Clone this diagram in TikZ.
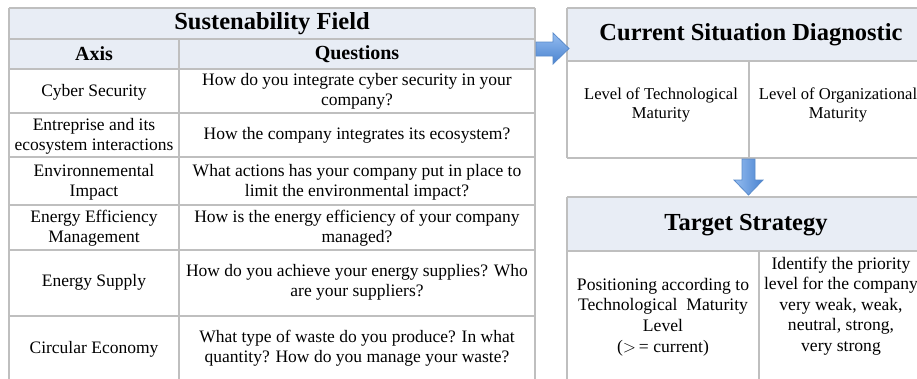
\documentclass[tikz,border=0pt]{standalone}
\usepackage{fontspec}
\setmainfont{Liberation Serif}
\definecolor{hdr}{HTML}{E8EDF5}
\definecolor{gridc}{HTML}{BFBFBF}
\definecolor{arrlight}{HTML}{95BDF0}
\definecolor{arrdark}{HTML}{4A83D0}
\definecolor{arredge}{HTML}{5A8BCB}
\begin{document}
\begin{tikzpicture}[x=1pt,y=-1pt,
  gridline/.style={draw=gridc,line width=1.3pt},
  titletext/.style={font=\fontsize{24.5}{28}\selectfont\bfseries, inner sep=0pt},
  headtext/.style={font=\fontsize{20}{24}\selectfont\bfseries, inner sep=0pt},
  celltext/.style={font=\fontsize{17.5}{20}\selectfont, align=center, inner sep=0pt},
  diagtext/.style={font=\fontsize{16.6}{19.5}\selectfont, align=center, inner sep=0pt},
  targettext/.style={font=\fontsize{17.6}{20.6}\selectfont, align=center, inner sep=0pt},
  blockarrow/.style={draw=arredge, line width=0.8pt, line join=miter},
]
\path[use as bounding box, clip] (0,0) rectangle (917,378);
\fill[white] (0,0) rectangle (917,378);

% ---------- left table ----------
\fill[hdr] (9,8) rectangle (535,69);
\foreach \yy in {8,39,69,113,157,205,250,316}
  \draw[gridline] (9,\yy) -- (535,\yy);
\draw[gridline] (9,8) -- (9,400);
\draw[gridline] (535,8) -- (535,400);
\draw[gridline] (179,39) -- (179,400);

\node[titletext] (sf) at (272,23.5) {Sustenability Field};
\node[headtext] (axis) at (94,54) {Axis};
\node[headtext] (quest) at (357,54) {Questions};

\node[celltext] (a1) at (94,92) {Cyber Security};
\node[celltext] (q1) at (357,91.5) {How do you integrate cyber security in your\\company?};
\node[celltext] (a2) at (94,136) {Entreprise and its\\ecosystem interactions};
\node[celltext] (q2) at (357,135.5) {How the company integrates its ecosystem?};
\node[celltext] (a3) at (94,182.5) {Environnemental\\Impact};
\node[celltext] (q3) at (357,182.5) {What actions has your company put in place to\\limit the environmental impact?};
\node[celltext] (a4) at (94,228) {Energy Efficiency\\Management};
\node[celltext] (q4) at (357,228) {How is the energy efficiency of your company\\managed?};
\node[celltext] (a5) at (94,282) {Energy Supply};
\node[celltext] (q5) at (357,282) {How do you achieve your energy supplies? Who\\are your suppliers?};
\node[celltext] (a6) at (94,349) {Circular Economy};
\node[celltext] (q6) at (357,348) {What type of waste do you produce? In what\\quantity? How do you manage your waste?};

% ---------- current situation box ----------
\fill[hdr] (567,8) rectangle (935,61);
\draw[gridline] (567,8) -- (935,8);
\draw[gridline] (567,61) -- (935,61);
\draw[gridline] (567,158) -- (935,158);
\draw[gridline] (567,8) -- (567,158);
\draw[gridline] (749,61) -- (749,158);
\node[titletext] (csd) at (751,34.5) {Current Situation Diagnostic};
\node[diagtext] (tech) at (661,105) {Level of Technological\\Maturity};
\node[diagtext] (org) at (838,105) {Level of Organizational\\Maturity};

% ---------- target strategy box ----------
\fill[hdr] (567,197) rectangle (924,251);
\draw[gridline] (567,197) -- (924,197);
\draw[gridline] (567,251) -- (924,251);
\draw[gridline] (567,197) -- (567,400);
\draw[gridline] (759,251) -- (759,400);
\node[titletext] (ts) at (746,225) {Target Strategy};
\node[targettext] (pos) at (663,317) {Positioning according to\\Technological\ \ Maturity\\Level\\($>$\,= current)};
\node[targettext] (prio) at (841,306) {Identify the priority\\level for the company\\very weak, weak,\\neutral, strong,\\very strong};

% ---------- block arrows ----------
\shade[blockarrow, top color=arrlight, bottom color=arrdark]
  (536,42) -- (553,42) -- (553,33) -- (569,48.5) -- (553,64) -- (553,56) -- (536,56) -- cycle;
\shade[blockarrow, left color=arrlight, right color=arrdark]
  (742,159) -- (755,159) -- (755,180) -- (763,180) -- (748.5,195) -- (734,180) -- (742,180) -- cycle;
\end{tikzpicture}
\end{document}
